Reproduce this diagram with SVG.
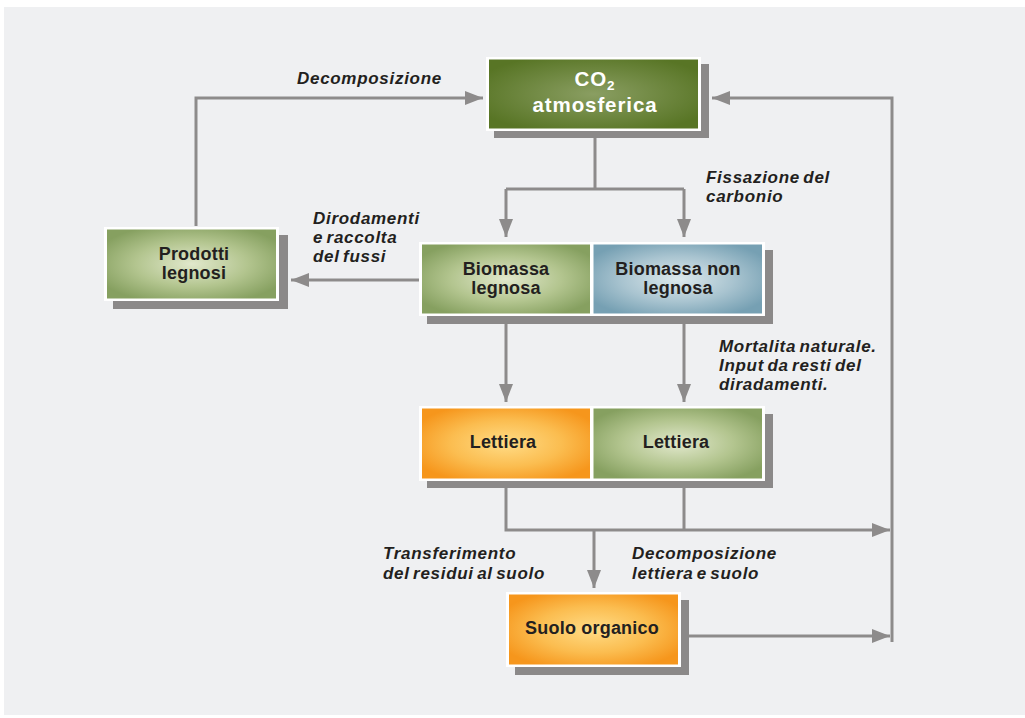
<svg xmlns="http://www.w3.org/2000/svg" width="1025" height="718" viewBox="0 0 1025 718">
<defs>
<radialGradient id="gDark" cx="0.5" cy="0.5" r="0.6">
<stop offset="0" stop-color="#8a9e62"/>
<stop offset="1" stop-color="#587525"/>
</radialGradient>
<radialGradient id="gGreen" cx="0.5" cy="0.5" r="0.6">
<stop offset="0" stop-color="#e1e8cc"/>
<stop offset="0.55" stop-color="#b3c58f"/>
<stop offset="1" stop-color="#86a060"/>
</radialGradient>
<radialGradient id="gBlue" cx="0.5" cy="0.5" r="0.6">
<stop offset="0" stop-color="#dde9ec"/>
<stop offset="0.55" stop-color="#a9c4d0"/>
<stop offset="1" stop-color="#76a0b3"/>
</radialGradient>
<radialGradient id="gOrange" cx="0.5" cy="0.5" r="0.6">
<stop offset="0" stop-color="#ffdc86"/>
<stop offset="0.55" stop-color="#fbbd50"/>
<stop offset="1" stop-color="#f6961c"/>
</radialGradient>
<marker id="arr" viewBox="0 0 18 14" refX="18" refY="7" markerWidth="18" markerHeight="14" markerUnits="userSpaceOnUse" orient="auto">
<path d="M0,0 L18,7 L0,14 Z" fill="#8d8b8b"/>
</marker>
<style>
.shadow{fill:#8b8989}
.frame{fill:#ffffff}
.nt{font-family:"Liberation Sans",Arial,sans-serif;font-weight:bold;font-size:18px;fill:#231f20;text-anchor:middle;letter-spacing:0.2px}
.wt{font-family:"Liberation Sans",Arial,sans-serif;font-weight:bold;font-size:20.5px;fill:#ffffff;text-anchor:middle;letter-spacing:0.9px}
.lb{font-family:"Liberation Sans",Arial,sans-serif;font-weight:bold;font-style:italic;font-size:17px;fill:#231f20;letter-spacing:0.7px;word-spacing:-2px}
.ln{fill:none;stroke:#8d8b8b;stroke-width:3}
</style>
</defs>
<rect x="4" y="7" width="1021" height="708" fill="#eff0f2"/>

<g id="connectors">
<path class="ln" d="M196,226 V98 H483" marker-end="url(#arr)"/>
<path class="ln" d="M892,642 V98 H712" marker-end="url(#arr)"/>
<path class="ln" d="M595,137 V189"/>
<path class="ln" d="M506,189 H684"/>
<path class="ln" d="M506,189 V237" marker-end="url(#arr)"/>
<path class="ln" d="M684,189 V237" marker-end="url(#arr)"/>
<path class="ln" d="M419,280 H291" marker-end="url(#arr)"/>
<path class="ln" d="M506,324 V402" marker-end="url(#arr)"/>
<path class="ln" d="M684,324 V402" marker-end="url(#arr)"/>
<path class="ln" d="M506,488 V530 H890" marker-end="url(#arr)"/>
<path class="ln" d="M684,488 V530"/>
<path class="ln" d="M594,530 V588" marker-end="url(#arr)"/>
<path class="ln" d="M689,636 H890" marker-end="url(#arr)"/>
</g>

<g id="labels">
<text class="lb" x="297" y="84">Decomposizione</text>
<text class="lb" x="706" y="183">Fissazione del</text>
<text class="lb" x="706" y="202">carbonio</text>
<text class="lb" x="313" y="224">Dirodamenti</text>
<text class="lb" x="313" y="243">e raccolta</text>
<text class="lb" x="313" y="262">del fussi</text>
<text class="lb" x="719" y="352">Mortalita naturale.</text>
<text class="lb" x="719" y="371">Input da resti del</text>
<text class="lb" x="719" y="390">diradamenti.</text>
<text class="lb" x="383" y="559">Transferimento</text>
<text class="lb" x="383" y="579">del residui al suolo</text>
<text class="lb" x="632" y="559">Decomposizione</text>
<text class="lb" x="632" y="579">lettiera e suolo</text>
</g>

<g id="co2">
<rect class="shadow" x="494" y="64" width="215" height="74"/>
<rect class="frame" x="486" y="57" width="215" height="74"/>
<rect x="489" y="59.5" width="209" height="69" fill="url(#gDark)"/>
<text class="wt" x="595" y="86">CO<tspan font-size="13.5" dy="4">2</tspan></text>
<text class="wt" x="595" y="112">atmosferica</text>
</g>

<g id="prodotti">
<rect class="shadow" x="113" y="235" width="175" height="74"/>
<rect class="frame" x="104" y="227" width="175" height="74"/>
<rect x="107" y="229.5" width="169" height="69" fill="url(#gGreen)"/>
<text class="nt" x="194" y="260">Prodotti</text>
<text class="nt" x="194" y="279">legnosi</text>
</g>

<g id="biomassa-legnosa">
<rect class="shadow" x="427" y="250" width="174" height="74"/>
<rect class="frame" x="419" y="242" width="174" height="74"/>
<rect x="422" y="244.5" width="168" height="69" fill="url(#gGreen)"/>
<text class="nt" x="506" y="275">Biomassa</text>
<text class="nt" x="506" y="294">legnosa</text>
</g>

<g id="biomassa-non-legnosa">
<rect class="shadow" x="598" y="250" width="175" height="74"/>
<rect class="frame" x="590" y="242" width="175" height="74"/>
<rect x="593.5" y="244.5" width="168.5" height="69" fill="url(#gBlue)"/>
<text class="nt" x="678" y="275">Biomassa non</text>
<text class="nt" x="678" y="294">legnosa</text>
</g>

<g id="lettiera-1">
<rect class="shadow" x="427" y="414" width="174" height="74"/>
<rect class="frame" x="419" y="406" width="174" height="75"/>
<rect x="422" y="408.5" width="168" height="70" fill="url(#gOrange)"/>
<text class="nt" x="503" y="448">Lettiera</text>
</g>

<g id="lettiera-2">
<rect class="shadow" x="598" y="414" width="175" height="74"/>
<rect class="frame" x="590" y="406" width="175" height="75"/>
<rect x="593.5" y="408.5" width="168.5" height="70" fill="url(#gGreen)"/>
<text class="nt" x="676" y="448">Lettiera</text>
</g>

<g id="suolo">
<rect class="shadow" x="515" y="600" width="174" height="75"/>
<rect class="frame" x="506" y="592" width="175" height="75"/>
<rect x="509" y="594.5" width="169" height="70" fill="url(#gOrange)"/>
<text class="nt" x="592" y="634">Suolo organico</text>
</g>
</svg>
